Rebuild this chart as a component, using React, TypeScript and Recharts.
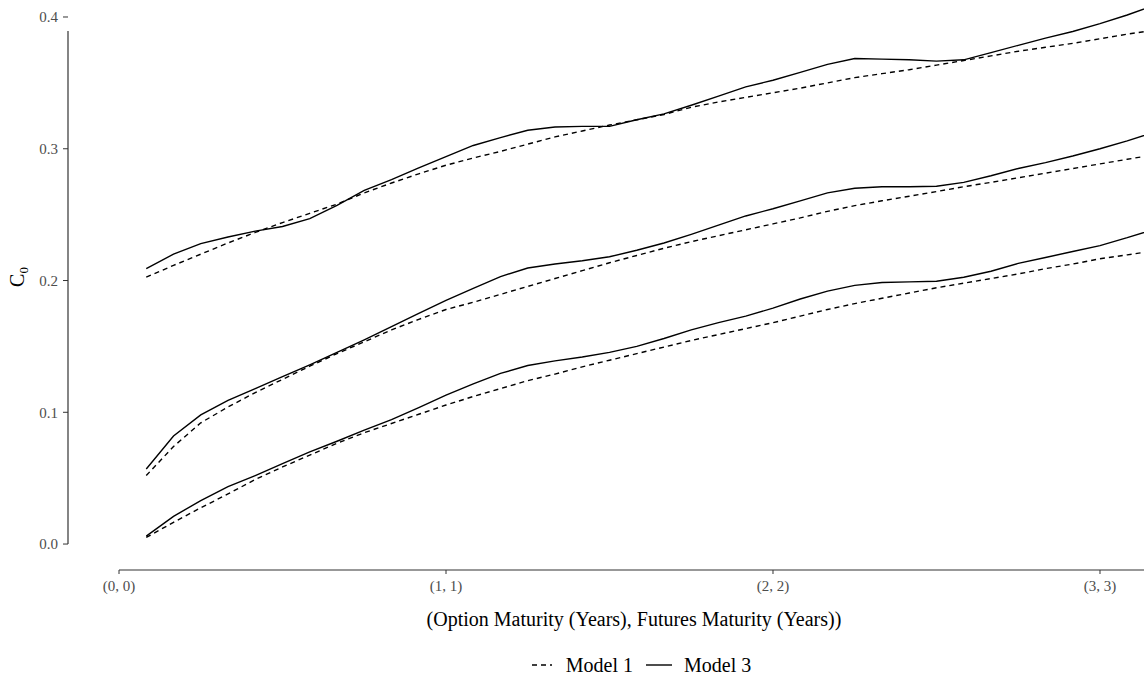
import { LineChart, Line, XAxis, YAxis, ReferenceLine } from 'recharts';

// option maturity in months (futures maturity = option maturity)
const months = [
	1, 2, 3, 4, 5, 6, 7, 8, 9, 10, 11, 12, 13, 14, 15, 16, 17, 18, 19, 20,
	21, 22, 23, 24, 25, 26, 27, 28, 29, 30, 31, 32, 33, 34, 35, 36, 37, 38,
];

const topModel1 = [
	0.2025, 0.2115, 0.22, 0.2285, 0.2365, 0.244, 0.251, 0.258, 0.2665, 0.274,
	0.281, 0.2875, 0.293, 0.298, 0.3035, 0.309, 0.3135, 0.318, 0.322, 0.326,
	0.3315, 0.3355, 0.339, 0.3425, 0.346, 0.35, 0.354, 0.357, 0.36, 0.3635,
	0.367, 0.3705, 0.374, 0.377, 0.38, 0.3835, 0.387, 0.39,
];
const topModel3 = [
	0.209, 0.22, 0.228, 0.233, 0.2375, 0.241, 0.247, 0.257, 0.2685, 0.2765,
	0.2855, 0.294, 0.3025, 0.3085, 0.314, 0.3165, 0.317, 0.317, 0.322, 0.3265,
	0.333, 0.34, 0.347, 0.352, 0.358, 0.364, 0.3685, 0.368, 0.3675, 0.3665,
	0.3675, 0.373, 0.3785, 0.384, 0.389, 0.395, 0.4015, 0.409,
];
const midModel1 = [
	0.052, 0.074, 0.092, 0.104, 0.115, 0.125, 0.135, 0.1445, 0.1535, 0.1625,
	0.1705, 0.178, 0.1835, 0.1895, 0.1955, 0.2015, 0.2075, 0.2135, 0.219, 0.2245,
	0.2295, 0.234, 0.2385, 0.243, 0.2475, 0.2525, 0.2568, 0.2605, 0.264, 0.2675,
	0.2712, 0.2745, 0.278, 0.2815, 0.285, 0.2885, 0.292, 0.2955,
];
const midModel3 = [
	0.057, 0.082, 0.098, 0.109, 0.118, 0.127, 0.136, 0.1455, 0.155, 0.165,
	0.175, 0.185, 0.194, 0.203, 0.2095, 0.2125, 0.215, 0.218, 0.223, 0.2285,
	0.235, 0.242, 0.249, 0.2545, 0.2605, 0.2665, 0.27, 0.2712, 0.2712, 0.2715,
	0.2745, 0.2795, 0.285, 0.2895, 0.2945, 0.3, 0.306, 0.3125,
];
const lowModel1 = [
	0.005, 0.0165, 0.0275, 0.038, 0.049, 0.0585, 0.0675, 0.0765, 0.0845, 0.0915,
	0.0985, 0.1055, 0.112, 0.118, 0.124, 0.129, 0.1345, 0.1395, 0.1445, 0.1495,
	0.1545, 0.159, 0.1635, 0.168, 0.173, 0.178, 0.1825, 0.1865, 0.1905, 0.1945,
	0.198, 0.2015, 0.205, 0.209, 0.2125, 0.2165, 0.2195, 0.2225,
];
const lowModel3 = [
	0.006, 0.021, 0.033, 0.0435, 0.052, 0.061, 0.07, 0.078, 0.0865, 0.0945,
	0.1035, 0.113, 0.1215, 0.1295, 0.1355, 0.139, 0.142, 0.1455, 0.15, 0.156,
	0.1625, 0.168, 0.173, 0.179, 0.186, 0.192, 0.1963, 0.1985, 0.199, 0.1995,
	0.2025, 0.207, 0.213, 0.2175, 0.222, 0.2265, 0.2325, 0.239,
];

const xTicks = [0, 1, 2, 3];
const yTicks = [0, 0.1, 0.2, 0.3, 0.4];

const data = months.map((m, i) => ({
	t: m / 12,
	top1: topModel1[i],
	top3: topModel3[i],
	mid1: midModel1[i],
	mid3: midModel3[i],
	low1: lowModel1[i],
	low3: lowModel3[i],
}));

const FONT = '"Liberation Serif", "Times New Roman", serif';
const X_MIN = -0.156;
const X_MAX = 3.1346;
const Y_MIN = -0.0197;
const Y_MAX = 0.4129;
const DASH = '5 4';

const YTitle = () => (
	<text
		transform="translate(24, 277) rotate(-90)"
		textAnchor="middle"
		fontSize={20}
		fontFamily={FONT}
		fill="#000"
	>
		C<tspan fontSize={13} dy={4}>0</tspan>
	</text>
);

export default function App() {
	const tickStyle = { fill: '#4d4d4d', fontSize: 15, fontFamily: FONT };
	return (
		<div style={{ position: 'absolute', left: 0, top: 0, width: 1144, height: 675, background: '#fff', overflow: 'hidden' }}>
			<LineChart width={1144} height={600} data={data} margin={{ top: 0, right: 0, left: 8, bottom: 0 }}>
				<XAxis
					type="number"
					dataKey="t"
					domain={[X_MIN, X_MAX]}
					allowDataOverflow
					ticks={xTicks}
					tickFormatter={(v: number) => `(${v}, ${v})`}
					axisLine={false}
					tickLine={{ stroke: '#333' }}
					tickSize={4}
					tickMargin={6}
					height={30}
					fontSize={15}
					fontFamily={FONT}
					tick={tickStyle}
				/>
				<YAxis
					type="number"
					domain={[Y_MIN, Y_MAX]}
					allowDataOverflow
					ticks={yTicks}
					tickFormatter={(v: number) => v.toFixed(1)}
					axisLine={false}
					tickLine={{ stroke: '#333' }}
					tickSize={5}
					tickMargin={5}
					width={60}
					fontSize={15}
					fontFamily={FONT}
					tick={tickStyle}
					label={<YTitle />}
				/>
				<ReferenceLine
					segment={[{ x: 0, y: Y_MIN }, { x: 3.4, y: Y_MIN }]}
					stroke="#333"
					strokeWidth={1.2}
					ifOverflow="visible"
				/>
				<ReferenceLine
					segment={[{ x: X_MIN, y: 0 }, { x: X_MIN, y: 0.3894 }]}
					stroke="#333"
					strokeWidth={1.2}
					ifOverflow="visible"
				/>
				<Line type="linear" dataKey="top1" stroke="#000" strokeWidth={1.4} strokeDasharray={DASH} dot={false} isAnimationActive={false} />
				<Line type="linear" dataKey="top3" stroke="#000" strokeWidth={1.4} dot={false} isAnimationActive={false} />
				<Line type="linear" dataKey="mid1" stroke="#000" strokeWidth={1.4} strokeDasharray={DASH} dot={false} isAnimationActive={false} />
				<Line type="linear" dataKey="mid3" stroke="#000" strokeWidth={1.4} dot={false} isAnimationActive={false} />
				<Line type="linear" dataKey="low1" stroke="#000" strokeWidth={1.4} strokeDasharray={DASH} dot={false} isAnimationActive={false} />
				<Line type="linear" dataKey="low3" stroke="#000" strokeWidth={1.4} dot={false} isAnimationActive={false} />
			</LineChart>
			<div
				style={{
					position: 'absolute',
					top: 606,
					left: 0,
					width: 1268,
					textAlign: 'center',
					fontFamily: FONT,
					fontSize: 20,
					color: '#000',
					lineHeight: '26px',
				}}
			>
				(Option Maturity (Years), Futures Maturity (Years))
			</div>
			<div
				style={{
					position: 'absolute',
					top: 652,
					left: 0,
					width: 1282,
					display: 'flex',
					justifyContent: 'center',
					alignItems: 'center',
					fontFamily: FONT,
					fontSize: 20,
					color: '#000',
					lineHeight: '26px',
				}}
			>
				<svg width={22} height={10} style={{ marginRight: 13 }}>
					<line x1={1} y1={5} x2={21} y2={5} stroke="#000" strokeWidth={1.4} strokeDasharray={DASH} />
				</svg>
				<span>Model 1</span>
				<svg width={26} height={10} style={{ marginLeft: 13, marginRight: 12 }}>
					<line x1={0} y1={5} x2={26} y2={5} stroke="#000" strokeWidth={1.4} />
				</svg>
				<span>Model 3</span>
			</div>
		</div>
	);
}
